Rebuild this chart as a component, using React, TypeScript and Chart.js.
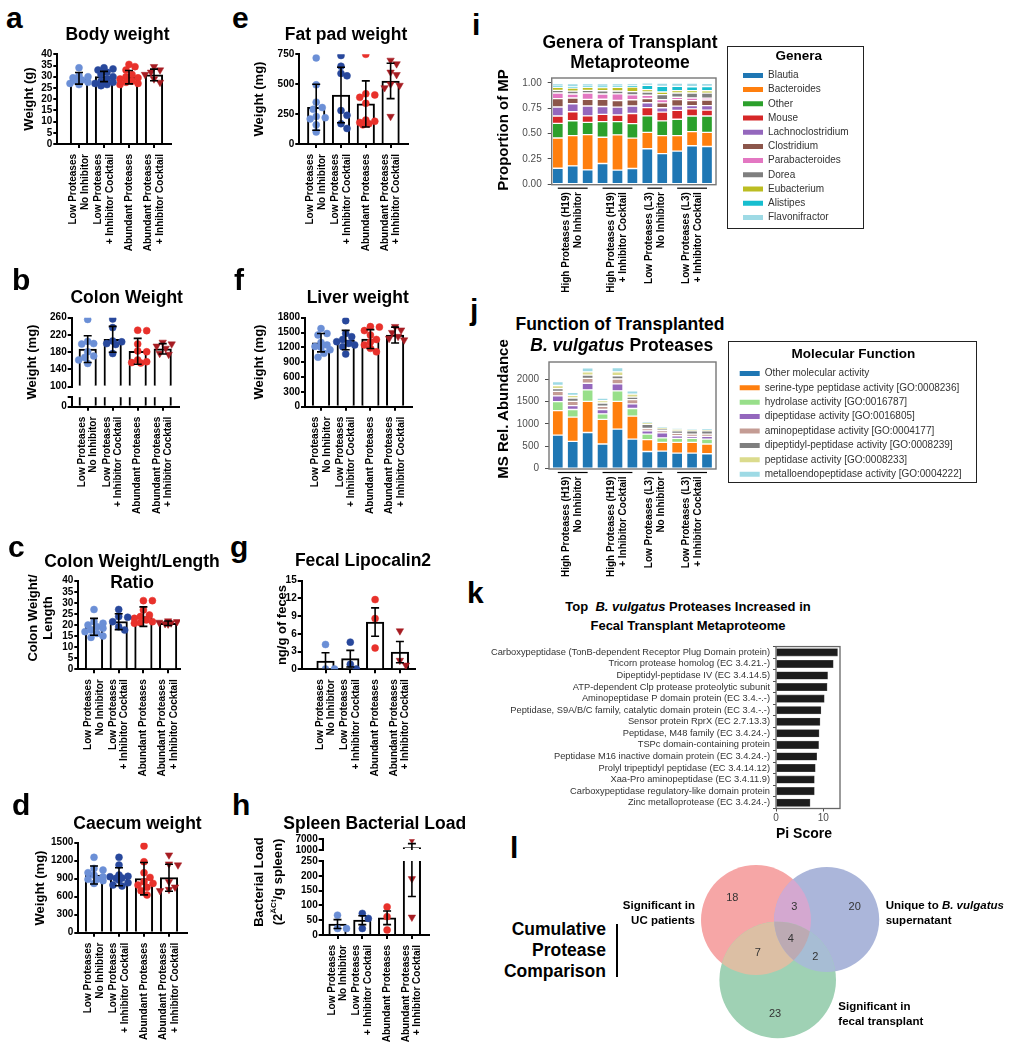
import React, { useEffect, useRef } from "react";
import { Chart, registerables } from "chart.js";

Chart.register(...registerables);
const FF = '"Liberation Sans", Arial, Helvetica, sans-serif';
Chart.defaults.font.family = FF;

// ---------------- DATA: treatment groups (panels a-h) ----------------
const treatmentLabels = [
  ["Low Proteases", "No Inhibitor"],
  ["Low Proteases", "+ Inhibitor Cocktail"],
  ["Abundant Proteases"],
  ["Abundant Proteases", "+ Inhibitor Cocktail"],
];

const bodyWeightTicks = [0, 5, 10, 15, 20, 25, 30, 35, 40];
const bodyWeightMean = [29.3, 30.1, 29.8, 30.8];
const bodyWeightSD = [2.6, 2.3, 3.0, 2.6];
const bodyWeightPoints = [
  [34, 30.5, 29.5, 28.5, 28, 27.5, 27, 26.5, 30],
  [34, 33.5, 33, 32, 31, 30, 29, 28, 27.5, 27, 26.5, 26],
  [35.5, 34.5, 33, 31, 30, 29.5, 29, 28, 27.5, 27, 26.5],
  [34.5, 33, 32, 31, 29, 27.5],
];

const fatPadTicks = [0, 250, 500, 750];
const fatPadMean = [307, 410, 335, 527];
const fatPadSD = [192, 232, 193, 148];
const fatPadPoints = [
  [720, 495, 350, 305, 290, 230, 220, 210, 160, 100],
  [740, 650, 590, 570, 280, 240, 170, 130],
  [750, 420, 410, 390, 340, 200, 190, 180, 170, 160],
  [700, 670, 600, 580, 500, 490, 470, 230],
];

const colonUpperTicks = [100, 140, 180, 220, 260];
const colonLowerTicks = [0, 20];
const colonMean = [187, 210, 182, 188];
const colonSD = [31, 30, 30, 12];
const colonPoints = [
  [256, 205, 200, 199, 181, 171, 168, 162, 154],
  [257, 237, 206, 204, 200, 198, 177],
  [231, 230, 199, 183, 181, 162, 158, 156, 155],
  [203, 199, 194, 189, 177, 175],
];

const liverTicks = [0, 300, 600, 900, 1200, 1500, 1800];
const liverMean = [1294, 1348, 1368, 1449];
const liverSD = [185, 195, 190, 160];
const liverPoints = [
  [1580, 1480, 1450, 1300, 1250, 1220, 1200, 1150, 1080, 1000],
  [1740, 1480, 1415, 1360, 1315, 1280, 1250, 1215, 1065],
  [1620, 1610, 1540, 1450, 1360, 1310, 1250, 1180, 1110],
  [1620, 1550, 1500, 1420, 1380, 1350],
];

const ratioTicks = [0, 5, 10, 15, 20, 25, 30, 35, 40];
const ratioMean = [19.2, 21.5, 23.8, 20.8];
const ratioSD = [3.8, 3.6, 4.4, 1.0];
const ratioPoints = [
  [27, 21.5, 20.8, 20, 19.2, 18.5, 17.7, 17, 16.2, 15, 14.4],
  [27, 23.8, 23.5, 21.5, 19.2, 17.7],
  [31, 31, 26.8, 24.5, 23.8, 23, 22.3, 21.5, 20.8, 21],
  [21.8, 21.5, 21.2, 20.9, 20.6, 20.4],
];

const lipocalinTicks = [0, 3, 6, 9, 12, 15];
const lipocalinMean = [1.4, 1.8, 8.0, 2.9];
const lipocalinSEM = [1.4, 1.4, 2.4, 1.8];
const lipocalinPoints = [
  [4.2, 0.05, 0.05],
  [4.6, 0.05, 0.85],
  [11.8, 8.6, 3.6],
  [6.5, 1.5, 0.7],
];

const caecumTicks = [0, 300, 600, 900, 1200, 1500];
const caecumMean = [961, 933, 900, 917];
const caecumSD = [150, 150, 270, 225];
const caecumPoints = [
  [1256, 1072, 1044, 1000, 961, 933, 889, 867, 822, 889],
  [1256, 1128, 961, 933, 906, 878, 833, 794, 778, 910, 940],
  [1444, 1183, 1000, 922, 850, 822, 794, 756, 700, 628],
  [1294, 1144, 1128, 850, 760, 720, 700],
];

const spleenUpperTicks = [1000, 7000];
const spleenLowerTicks = [0, 50, 100, 150, 200, 250];
const spleenMean = [37, 50, 58, 2350];
const spleenSEM = [15, 15, 23, 2220];
const spleenPoints = [
  [67, 22, 22],
  [73, 56, 22],
  [95, 62, 17],
  [6900, 190, 60],
];

// ---------------- DATA: panel i (genera) ----------------
const sampleGroup = [0, 0, 0, 1, 1, 1, 2, 2, 3, 3, 3];
const transplantGroupLabels = [
  ["High Proteases (H19)", "No Inhibitor"],
  ["High Proteases (H19)", "+ Inhibitor Cocktail"],
  ["Low Proteases (L3)", "No Inhibitor"],
  ["Low Proteases (L3)", "+ Inhibitor Cocktail"],
];
const genera = ["Blautia", "Bacteroides", "Other", "Mouse", "Lachnoclostridium", "Clostridium", "Parabacteroides", "Dorea", "Eubacterium", "Alistipes", "Flavonifractor"];
const blautia = [0.157, 0.18, 0.141, 0.204, 0.139, 0.155, 0.35, 0.301, 0.327, 0.379, 0.372];
const bacteroides = [0.299, 0.299, 0.348, 0.259, 0.348, 0.299, 0.162, 0.178, 0.152, 0.139, 0.139];
const otherGenera = [0.144, 0.147, 0.121, 0.155, 0.131, 0.144, 0.162, 0.146, 0.162, 0.155, 0.162];
const mouse = [0.073, 0.089, 0.065, 0.071, 0.065, 0.1, 0.081, 0.087, 0.087, 0.071, 0.058];
const lachnoclostridium = [0.089, 0.079, 0.097, 0.078, 0.078, 0.074, 0.049, 0.042, 0.042, 0.032, 0.045];
const clostridium = [0.083, 0.057, 0.065, 0.071, 0.065, 0.061, 0.042, 0.049, 0.065, 0.049, 0.055];
const parabacteroides = [0.055, 0.039, 0.063, 0.052, 0.065, 0.049, 0.032, 0.032, 0.023, 0.026, 0.019];
const dorea = [0.026, 0.029, 0.026, 0.032, 0.029, 0.032, 0.032, 0.049, 0.042, 0.049, 0.049];
const eubacterium = [0.029, 0.029, 0.029, 0.032, 0.036, 0.045, 0.023, 0.026, 0.023, 0.023, 0.023];
const alistipes = [0.012, 0.012, 0.012, 0.012, 0.012, 0.012, 0.042, 0.055, 0.042, 0.039, 0.042];
const flavonifractor = [0.026, 0.032, 0.026, 0.026, 0.026, 0.023, 0.026, 0.032, 0.032, 0.036, 0.032];
const proportionTicks = [0, 0.25, 0.5, 0.75, 1];

// ---------------- DATA: panel j (molecular function) ----------------
const functions = [
  "Other molecular activity",
  "serine-type peptidase activity [GO:0008236]",
  "hydrolase activity [GO:0016787]",
  "dipeptidase activity [GO:0016805]",
  "aminopeptidase activity [GO:0004177]",
  "dipeptidyl-peptidase activity [GO:0008239]",
  "peptidase activity [GO:0008233]",
  "metalloendopeptidase activity [GO:0004222]",
];
const otherMolecular = [745, 608, 806, 549, 879, 659, 381, 388, 344, 344, 330];
const serineType = [550, 542, 696, 550, 623, 513, 264, 198, 242, 242, 219];
const hydrolase = [200, 169, 256, 124, 234, 169, 124, 100, 88, 88, 110];
const dipeptidase = [130, 88, 147, 96, 154, 102, 73, 110, 59, 44, 59];
const aminopeptidase = [100, 95, 110, 73, 110, 95, 52, 50, 51, 51, 51];
const dipeptidylPeptidase = [60, 73, 73, 73, 73, 59, 95, 40, 58, 73, 73];
const peptidase = [70, 59, 73, 51, 88, 66, 29, 20, 30, 15, 15];
const metalloendopeptidase = [90, 66, 88, 59, 95, 73, 22, 20, 22, 15, 22];
const abundanceTicks = [0, 500, 1000, 1500, 2000];

// ---------------- DATA: panel k ----------------
const proteaseNames = [
  "Carboxypeptidase (TonB-dependent Receptor Plug Domain protein)",
  "Tricorn protease homolog (EC 3.4.21.-)",
  "Dipeptidyl-peptidase IV (EC 3.4.14.5)",
  "ATP-dependent Clp protease proteolytic subunit",
  "Aminopeptidase P domain protein (EC 3.4.-.-)",
  "Peptidase, S9A/B/C family, catalytic domain protein (EC 3.4.-.-)",
  "Sensor protein RprX (EC 2.7.13.3)",
  "Peptidase, M48 family (EC 3.4.24.-)",
  "TSPc domain-containing protein",
  "Peptidase M16 inactive domain protein (EC 3.4.24.-)",
  "Prolyl tripeptidyl peptidase (EC 3.4.14.12)",
  "Xaa-Pro aminopeptidase (EC 3.4.11.9)",
  "Carboxypeptidase regulatory-like domain protein",
  "Zinc metalloprotease (EC 3.4.24.-)",
];
const piScores = [13.0, 12.1, 10.9, 10.8, 10.2, 9.5, 9.3, 9.1, 9.0, 8.6, 8.3, 8.1, 8.1, 7.2];
const piTicks = [0, 10];

// ---------------- DATA: panel l (Venn) ----------------
const vennSets = ["Significant in UC patients", "Unique to B. vulgatus supernatant", "Significant in fecal transplant"];
const vennRegionCounts = [18, 20, 23, 3, 7, 2, 4]; // UC, Bv, FT, UC&Bv, UC&FT, Bv&FT, all

// ---------------- STYLES / LAYOUT ----------------
const treatmentColors = ["#6b8fd6", "#28489c", "#e8312b", "#a61c22"];
const treatmentMarkers = ["circle", "circle", "circle", "triangle"];
const generaColors = ["#1f77b4", "#ff7f0e", "#2ca02c", "#d62728", "#9467bd", "#8c564b", "#e377c2", "#7f7f7f", "#bcbd22", "#17becf", "#9edae5"];
const functionColors = ["#1f77b4", "#ff7f0e", "#98df8a", "#9467bd", "#c49c94", "#7f7f7f", "#dbdb8d", "#9edae5"];
const vennColors = ["#f6a6a6", "#abb6da", "#9fd1b4"];
const vennMix = { ab: "#d4a8d0", ac: "#dcbfa4", bc: "#a7bdd4", abc: "#bcaab3" };
const vennCircles = [
  { x: 756, y: 920, r: 55 },
  { x: 826.7, y: 919.5, r: 52.5 },
  { x: 777.7, y: 980, r: 58.3 },
];
const vennNumberPos = [
  [732.3, 897.3], [854.7, 906], [775, 1012.7], [794.3, 906], [757.7, 952.3], [815.3, 956], [790.7, 937.7],
];

type Rect = { x: number; y: number; w: number; h: number };

function swarm(vals: number[], ppu: number, d = 6.3) {
  const offs = new Array(vals.length).fill(0);
  const placed: number[][] = [];
  const order = vals.map((_, i) => i).sort((a, b) => vals[b] - vals[a]);
  const cands = [0, 3, -3, 6, -6, 9, -9];
  for (const i of order) {
    const py = vals[i] * ppu;
    let best = 0;
    let bestD = -1;
    for (const c of cands) {
      const md = placed.reduce((m, [qx, qy]) => Math.min(m, Math.hypot(qx - c, qy - py)), Infinity);
      if (md >= d) {
        best = c;
        bestD = md;
        break;
      }
      if (md > bestD + 0.5) {
        best = c;
        bestD = md;
      }
    }
    offs[i] = best;
    placed.push([best, py]);
  }
  return offs;
}

const errPlugin = (means: number[], errs: number[], extra: number) => ({
  id: "errbars",
  afterDatasetsDraw(chart: any) {
    const { ctx, chartArea: a } = chart;
    const x = chart.scales.x;
    const y = chart.scales.y;
    ctx.save();
    ctx.beginPath();
    ctx.rect(a.left, a.top - extra, a.right - a.left, a.bottom - a.top + 2 * extra);
    ctx.clip();
    ctx.strokeStyle = "#000";
    ctx.lineWidth = 1.6;
    means.forEach((m, i) => {
      const px = x.getPixelForValue(i);
      const hi = y.getPixelForValue(m + errs[i]);
      const lo = y.getPixelForValue(m - errs[i]);
      ctx.beginPath();
      ctx.moveTo(px, hi);
      ctx.lineTo(px, lo);
      ctx.moveTo(px - 4, hi);
      ctx.lineTo(px + 4, hi);
      ctx.moveTo(px - 4, lo);
      ctx.lineTo(px + 4, lo);
      ctx.stroke();
    });
    ctx.restore();
  },
});

const xLabelPlugin = (labels: string[][], lh = 11.5, gap = 10) => ({
  id: "xlabels",
  afterDraw(chart: any) {
    const { ctx, chartArea: a } = chart;
    const x = chart.scales.x;
    ctx.save();
    ctx.fillStyle = "#000";
    ctx.font = `bold 10px ${FF}`;
    ctx.textAlign = "right";
    ctx.textBaseline = "middle";
    labels.forEach((lines, i) => {
      const px = x.getPixelForValue(i);
      ctx.save();
      ctx.translate(px, a.bottom + gap);
      ctx.rotate(-Math.PI / 2);
      lines.forEach((ln, j) => ctx.fillText(ln, 0, (j - (lines.length - 1) / 2) * lh));
      ctx.restore();
    });
    ctx.restore();
  },
});

const framePlugin = (color: string, width: number) => ({
  id: "frame",
  afterDatasetsDraw(chart: any) {
    const { ctx, chartArea: a } = chart;
    ctx.save();
    ctx.strokeStyle = color;
    ctx.lineWidth = width;
    ctx.strokeRect(a.left, a.top, a.right - a.left, a.bottom - a.top);
    ctx.restore();
  },
});

const groupPlugin = (groupOf: number[], labels: string[][]) => ({
  id: "groups",
  afterDraw(chart: any) {
    const { ctx, chartArea: a } = chart;
    const xs = chart.scales.x;
    ctx.save();
    labels.forEach((lines, g) => {
      const idx = groupOf.map((v, i) => (v === g ? i : -1)).filter((i) => i >= 0);
      const first = xs.getPixelForValue(idx[0]);
      const last = xs.getPixelForValue(idx[idx.length - 1]);
      const mid = (first + last) / 2;
      ctx.strokeStyle = "#000";
      ctx.lineWidth = 1.2;
      ctx.beginPath();
      ctx.moveTo(first, a.bottom + 3.5);
      ctx.lineTo(last, a.bottom + 3.5);
      ctx.stroke();
      ctx.save();
      ctx.translate(mid, a.bottom + 7.5);
      ctx.rotate(-Math.PI / 2);
      ctx.fillStyle = "#000";
      ctx.font = `bold 10px ${FF}`;
      ctx.textAlign = "right";
      ctx.textBaseline = "middle";
      lines.forEach((ln, j) => ctx.fillText(ln, 0, (j - (lines.length - 1) / 2) * 12));
      ctx.restore();
    });
    ctx.restore();
  },
});

function makeGP(seg: any, means: number[], errs: number[], points: number[][]) {
  const p = seg.plot;
  const x0 = Math.floor(p.l - 44);
  const y0 = Math.floor(p.t - 10);
  const x1 = Math.ceil(p.r + 8);
  const y1 = Math.ceil(seg.showX ? p.b + 122 : p.b + 8);
  const rect = { x: x0, y: y0, w: x1 - x0, h: y1 - y0 };
  const xMin = (p.l - seg.c0) / seg.s;
  const xMax = (p.r - seg.c0) / seg.s;
  const ppu = (p.b - p.t) / (seg.yMax - seg.yMin);
  const hide: number[] = seg.hide || [];
  const inRange = (v: number) => !seg.broken || (v >= seg.yMin && v <= seg.yMax);
  const datasets: any[] = [
    {
      type: "bar",
      order: 2,
      base: seg.yMin,
      clip: 0,
      data: means.map((m, i) => ({ x: i, y: m })).filter((d) => d.y > seg.yMin),
      backgroundColor: "#ffffff",
      borderColor: "#000000",
      borderWidth: 2,
      barThickness: 17.5,
    },
  ];
  points.forEach((pts, g) => {
    const offs = swarm(pts, ppu);
    const tri = treatmentMarkers[g] === "triangle";
    datasets.push({
      type: "scatter",
      order: 1,
      data: pts.map((v, k) => ({ x: g + offs[k] / seg.s, y: v })).filter((d) => inRange(d.y)),
      pointStyle: treatmentMarkers[g],
      pointRotation: tri ? 180 : 0,
      pointRadius: tri ? 4.3 : 3.5,
      backgroundColor: treatmentColors[g],
      borderColor: treatmentColors[g],
      borderWidth: 0.5,
    });
  });
  const plugins: any[] = [errPlugin(means, errs, seg.broken ? 0 : 2)];
  if (seg.showX) plugins.push(xLabelPlugin(treatmentLabels));
  const config = {
    type: "bar",
    data: { datasets },
    options: {
      responsive: false,
      animation: false,
      events: [],
      layout: {
        autoPadding: false,
        padding: {
          left: 0,
          top: p.t - rect.y,
          right: rect.x + rect.w - p.r,
          bottom: seg.showX ? 0 : rect.y + rect.h - p.b,
        },
      },
      plugins: { legend: { display: false }, tooltip: { enabled: false } },
      scales: {
        x: {
          type: "linear",
          min: xMin,
          max: xMax,
          offset: false,
          display: seg.showX,
          afterBuildTicks: (sc: any) => {
            sc.ticks = means.map((_, i) => ({ value: i }));
          },
          afterFit: (sc: any) => {
            sc.height = seg.showX ? rect.y + rect.h - p.b : 0;
          },
          ticks: { display: false },
          grid: { offset: false, drawOnChartArea: false, drawTicks: true, tickLength: 4, color: "#000", tickColor: "#000", lineWidth: 2, tickWidth: 2 },
          border: { display: true, color: "#000", width: 2 },
        },
        y: {
          type: "linear",
          min: seg.yMin,
          max: seg.yMax,
          bounds: "data",
          beginAtZero: false,
          afterBuildTicks: (sc: any) => {
            sc.ticks = seg.yTicks.map((v: number) => ({ value: v }));
          },
          afterFit: (sc: any) => {
            sc.width = p.l - rect.x;
          },
          ticks: {
            autoSkip: false,
            callback: (v: number) => (hide.includes(v) ? "" : String(v)),
            color: "#000",
            font: { family: FF, size: 10, weight: "bold", lineHeight: 1 },
            padding: 1,
          },
          grid: { drawOnChartArea: false, drawTicks: true, tickLength: 4, color: "#000", tickColor: "#000", lineWidth: 2, tickWidth: 2 },
          border: { display: true, color: "#000", width: 2 },
        },
      },
    },
    plugins,
  };
  return { rect, config };
}

function makeStack(spec: any) {
  const { plot: p, rect, yMin, yMax, yTicks, fmt, series, colors, names, c0, s } = spec;
  const xMin = (p.l - c0) / s;
  const xMax = (p.r - c0) / s;
  const datasets = names.map((n: string, k: number) => ({
    label: n,
    data: series[k].map((v: number, i: number) => ({ x: i, y: v })),
    backgroundColor: colors[k],
    borderColor: "rgba(255,255,255,0.85)",
    borderWidth: 1,
    borderSkipped: false,
    barThickness: 11,
    stack: "s",
  }));
  const config = {
    type: "bar",
    data: { datasets },
    options: {
      responsive: false,
      animation: false,
      events: [],
      layout: { autoPadding: false, padding: { left: 0, top: p.t - rect.y, right: rect.x + rect.w - p.r, bottom: 0 } },
      plugins: { legend: { display: false }, tooltip: { enabled: false } },
      scales: {
        x: {
          type: "linear",
          stacked: true,
          min: xMin,
          max: xMax,
          offset: false,
          afterFit: (sc: any) => {
            sc.height = rect.y + rect.h - p.b;
          },
          ticks: { display: false },
          grid: { display: false, offset: false },
          border: { display: false },
        },
        y: {
          type: "linear",
          stacked: true,
          min: yMin,
          max: yMax,
          bounds: "data",
          beginAtZero: false,
          afterBuildTicks: (sc: any) => {
            sc.ticks = yTicks.map((v: number) => ({ value: v }));
          },
          afterFit: (sc: any) => {
            sc.width = p.l - rect.x;
          },
          ticks: { autoSkip: false, callback: fmt, color: "#4d4d4d", font: { family: FF, size: 10 }, padding: 6 },
          grid: { drawOnChartArea: false, drawTicks: true, tickLength: 4, tickColor: "#4d4d4d", tickWidth: 1 },
          border: { display: false },
        },
      },
    },
    plugins: [framePlugin("#777", 1.4), groupPlugin(sampleGroup, transplantGroupLabels)],
  };
  return { rect, config };
}

function makeLegend(names: string[], colors: string[], title: string, rect: Rect, frame: Rect, padLeft: number, titleTop: number, itemPad: number) {
  const config = {
    type: "bar",
    data: {
      labels: [],
      datasets: names.map((n, k) => ({ label: n, data: [], backgroundColor: colors[k], borderColor: colors[k], borderWidth: 0 })),
    },
    options: {
      responsive: false,
      animation: false,
      events: [],
      layout: { autoPadding: false, padding: { left: padLeft, top: 0, right: 0, bottom: 0 } },
      scales: { x: { display: false }, y: { display: false } },
      plugins: {
        tooltip: { enabled: false },
        legend: {
          display: true,
          position: "left",
          align: "start",
          title: { display: true, text: title, color: "#000", font: { family: FF, size: 13.5, weight: "bold" }, padding: { top: titleTop, bottom: 0 } },
          labels: { boxWidth: 20, boxHeight: 5, color: "#333", font: { family: FF, size: 10 }, padding: itemPad },
        },
      },
    },
  };
  return { rect, config, frame };
}

function makeK() {
  const rect = { x: 480, y: 638, w: 365, h: 190 };
  const p = { l: 776, r: 840, t: 645.2, b: 808.5 };
  const config = {
    type: "bar",
    data: {
      labels: proteaseNames,
      datasets: [{ data: piScores, backgroundColor: "#1c1c1c", borderColor: "#555", borderWidth: 0.6, barThickness: 7.4 }],
    },
    options: {
      indexAxis: "y",
      responsive: false,
      animation: false,
      events: [],
      layout: { autoPadding: false, padding: { left: 0, top: p.t - rect.y, right: rect.x + rect.w - p.r, bottom: 0 } },
      plugins: { legend: { display: false }, tooltip: { enabled: false } },
      scales: {
        y: {
          type: "category",
          afterFit: (sc: any) => {
            sc.width = p.l - rect.x;
          },
          ticks: { autoSkip: false, color: "#333", font: { family: FF, size: 9.3 }, padding: 3 },
          grid: { drawOnChartArea: false, drawTicks: true, tickLength: 3, tickColor: "#4d4d4d", tickWidth: 1 },
          border: { display: false },
        },
        x: {
          type: "linear",
          min: 0,
          max: 13.53,
          bounds: "data",
          afterBuildTicks: (sc: any) => {
            sc.ticks = piTicks.map((v) => ({ value: v }));
          },
          afterFit: (sc: any) => {
            sc.height = rect.y + rect.h - p.b;
          },
          ticks: { color: "#4d4d4d", font: { family: FF, size: 10 }, padding: 1 },
          grid: { drawOnChartArea: false, drawTicks: true, tickLength: 3, tickColor: "#4d4d4d", tickWidth: 1 },
          border: { display: false },
        },
      },
    },
    plugins: [framePlugin("#666", 1.3)],
  };
  return { rect, config };
}

function makeVenn() {
  const rect = { x: 690, y: 855, w: 200, h: 190 };
  const overlay = {
    id: "vennmix",
    afterDatasetsDraw(chart: any) {
      const ctx = chart.ctx;
      const xs = chart.scales.x;
      const ys = chart.scales.y;
      const circ = (k: number) => {
        const c = vennCircles[k];
        ctx.beginPath();
        ctx.arc(xs.getPixelForValue(c.x), ys.getPixelForValue(c.y), c.r, 0, Math.PI * 2);
      };
      const pairs: any[] = [
        [0, 1, vennMix.ab],
        [0, 2, vennMix.ac],
        [1, 2, vennMix.bc],
      ];
      for (const [i, j, c] of pairs) {
        ctx.save();
        circ(i);
        ctx.clip();
        circ(j);
        ctx.fillStyle = c;
        ctx.fill();
        ctx.restore();
      }
      ctx.save();
      circ(0);
      ctx.clip();
      circ(1);
      ctx.clip();
      circ(2);
      ctx.fillStyle = vennMix.abc;
      ctx.fill();
      ctx.restore();
    },
  };
  const config = {
    type: "bubble",
    data: {
      datasets: [
        {
          label: "sets",
          data: vennCircles.map((c) => ({ x: c.x, y: c.y, r: c.r })),
          backgroundColor: vennColors,
          borderWidth: 0,
          clip: false,
        },
      ],
    },
    options: {
      responsive: false,
      animation: false,
      events: [],
      layout: { autoPadding: false, padding: 0 },
      plugins: { legend: { display: false }, tooltip: { enabled: false } },
      scales: {
        x: { type: "linear", min: rect.x, max: rect.x + rect.w, display: false },
        y: { type: "linear", min: rect.y, max: rect.y + rect.h, reverse: true, display: false },
      },
    },
    plugins: [overlay],
  };
  return { rect, config };
}

function ChartBox({ rect, config, frame }: { rect: Rect; config: any; frame?: Rect }) {
  const ref = useRef<HTMLCanvasElement | null>(null);
  useEffect(() => {
    const c = new Chart(ref.current as HTMLCanvasElement, config);
    return () => c.destroy();
  }, []);
  return (
    <>
      <canvas
        ref={ref}
        width={rect.w}
        height={rect.h}
        style={{ position: "absolute", left: rect.x, top: rect.y, width: rect.w, height: rect.h, display: "block" }}
      />
      {frame && (
        <div
          style={{
            position: "absolute",
            left: frame.x,
            top: frame.y,
            width: frame.w,
            height: frame.h,
            border: "1.5px solid #222",
            boxSizing: "border-box",
            pointerEvents: "none",
          }}
        />
      )}
    </>
  );
}

function T({ x, y, children, size = 17.5, weight = 700, align = "center", rot = false, color = "#000", lh = 1 }: any) {
  const tx = align === "center" ? "-50%" : align === "right" ? "-100%" : "0";
  return (
    <div
      style={{
        position: "absolute",
        left: x,
        top: y,
        transform: rot ? "translate(-50%,-50%) rotate(-90deg)" : `translate(${tx},-50%)`,
        fontFamily: FF,
        fontSize: size,
        fontWeight: weight,
        color,
        whiteSpace: "pre",
        lineHeight: lh,
        textAlign: align,
      }}
    >
      {children}
    </div>
  );
}

function Letter({ x, base, ch }: any) {
  return (
    <div style={{ position: "absolute", left: x, top: base - 25.4, fontFamily: FF, fontSize: 30, fontWeight: 700, lineHeight: "30px" }}>{ch}</div>
  );
}

export default function App() {
  const charts: any[] = [
    makeGP({ plot: { l: 57.3, r: 171, t: 54.3, b: 144 }, yMin: 0, yMax: 40, yTicks: bodyWeightTicks, c0: 79, s: 25, showX: true }, bodyWeightMean, bodyWeightSD, bodyWeightPoints),
    makeGP({ plot: { l: 299.3, r: 408, t: 54.3, b: 144 }, yMin: 0, yMax: 750, yTicks: fatPadTicks, c0: 316.2, s: 24.8, showX: true }, fatPadMean, fatPadSD, fatPadPoints),
    makeGP({ plot: { l: 71.7, r: 179, t: 317.7, b: 386.7 }, yMin: 100, yMax: 260, yTicks: colonUpperTicks, c0: 87.7, s: 25, showX: false, broken: true }, colonMean, colonSD, colonPoints),
    makeGP({ plot: { l: 71.7, r: 179, t: 397.3, b: 406.7 }, yMin: 0, yMax: 20, yTicks: colonLowerTicks, hide: [20], c0: 87.7, s: 25, showX: true, broken: true }, colonMean, colonSD, colonPoints),
    makeGP({ plot: { l: 305, r: 412, t: 317.7, b: 406.7 }, yMin: 0, yMax: 1800, yTicks: liverTicks, c0: 321, s: 24.7, showX: true }, liverMean, liverSD, liverPoints),
    makeGP({ plot: { l: 78.3, r: 180, t: 580.7, b: 669.3 }, yMin: 0, yMax: 40, yTicks: ratioTicks, c0: 94, s: 24.7, showX: true }, ratioMean, ratioSD, ratioPoints),
    makeGP({ plot: { l: 301.7, r: 415, t: 580.7, b: 669.3 }, yMin: 0, yMax: 15, yTicks: lipocalinTicks, c0: 325.5, s: 24.8, showX: true }, lipocalinMean, lipocalinSEM, lipocalinPoints),
    makeGP({ plot: { l: 78.3, r: 187, t: 842.7, b: 932.7 }, yMin: 0, yMax: 1500, yTicks: caecumTicks, c0: 94, s: 25, showX: true }, caecumMean, caecumSD, caecumPoints),
    makeGP({ plot: { l: 322.7, r: 429, t: 839.3, b: 850 }, yMin: 1000, yMax: 7000, yTicks: spleenUpperTicks, c0: 337.5, s: 24.8, showX: false, broken: true }, spleenMean, spleenSEM, spleenPoints),
    makeGP({ plot: { l: 322.7, r: 429, t: 861, b: 935 }, yMin: 0, yMax: 250, yTicks: spleenLowerTicks, c0: 337.5, s: 24.8, showX: true, broken: true }, spleenMean, spleenSEM, spleenPoints),
    makeStack({
      plot: { l: 551.7, r: 716, t: 76, b: 184.7 },
      rect: { x: 505, y: 66, w: 220, h: 234 },
      yMin: -0.005,
      yMax: 1.048,
      yTicks: proportionTicks,
      fmt: (v: number) => v.toFixed(2),
      series: [blautia, bacteroides, otherGenera, mouse, lachnoclostridium, clostridium, parabacteroides, dorea, eubacterium, alistipes, flavonifractor],
      colors: generaColors,
      names: genera,
      c0: 557.8,
      s: 14.92,
    }),
    makeStack({
      plot: { l: 549, r: 716, t: 360, b: 469 },
      rect: { x: 505, y: 350, w: 220, h: 240 },
      yMin: -10,
      yMax: 2380,
      yTicks: abundanceTicks,
      fmt: (v: number) => String(v),
      series: [otherMolecular, serineType, hydrolase, dipeptidase, aminopeptidase, dipeptidylPeptidase, peptidase, metalloendopeptidase],
      colors: functionColors,
      names: functions,
      c0: 557.8,
      s: 14.92,
    }),
    makeLegend(genera, generaColors, "Genera", { x: 727, y: 46, w: 300, h: 198 }, { x: 727, y: 46, w: 137, h: 183 }, 11.8, 4, 4.2),
    makeLegend(functions, functionColors, "Molecular Function", { x: 728, y: 341, w: 530, h: 165 }, { x: 728, y: 341, w: 249, h: 142 }, 7.3, 6.8, 4.4),
    makeK(),
    makeVenn(),
  ];

  return (
    <div style={{ position: "absolute", left: 0, top: 0, width: 1013, height: 1050, background: "#fff", overflow: "hidden" }}>
      {charts.map((c, i) => (
        <ChartBox key={i} rect={c.rect} config={c.config} frame={c.frame} />
      ))}

      {/* panel letters */}
      <Letter x={6} base={28.3} ch="a" />
      <Letter x={232} base={28.3} ch="e" />
      <Letter x={472} base={35} ch="i" />
      <Letter x={12} base={290} ch="b" />
      <Letter x={234} base={290} ch="f" />
      <Letter x={470} base={320} ch="j" />
      <Letter x={8} base={557} ch="c" />
      <Letter x={230} base={557} ch="g" />
      <Letter x={467} base={603} ch="k" />
      <Letter x={12} base={815} ch="d" />
      <Letter x={232} base={815} ch="h" />
      <Letter x={510} base={858} ch="l" />

      {/* panel titles */}
      <T x={117.5} y={35}>Body weight</T>
      <T x={346} y={35}>Fat pad weight</T>
      <T x={126.7} y={298}>Colon Weight</T>
      <T x={357.7} y={298}>Liver weight</T>
      <T x={132} y={571.5} lh="21px">{"Colon Weight/Length\nRatio"}</T>
      <T x={363} y={561}>Fecal Lipocalin2</T>
      <T x={137.5} y={824}>Caecum weight</T>
      <T x={374.7} y={824}>Spleen Bacterial Load</T>
      <T x={630} y={51.7} lh="20.5px">{"Genera of Transplant\nMetaproteome"}</T>
      <T x={620} y={324.5}>Function of Transplanted</T>
      <T x={621.7} y={346}>
        <i>B. vulgatus</i> Proteases
      </T>
      <T x={688} y={606} size={13}>
        {"Top  "}
        <i>B. vulgatus</i>
        {" Proteases Increased in"}
      </T>
      <T x={688} y={625} size={13}>Fecal Transplant Metaproteome</T>

      {/* y axis titles */}
      <T x={28} y={99} size={13} rot>Weight (g)</T>
      <T x={258} y={99} size={13} rot>Weight (mg)</T>
      <T x={31} y={362} size={13} rot>Weight (mg)</T>
      <T x={257.5} y={362} size={13} rot>Weight (mg)</T>
      <T x={40} y={618} size={13} rot lh="15px">{"Colon Weight/\nLength"}</T>
      <T x={281} y={625} size={13} rot>ng/g of feces</T>
      <T x={39} y={887.5} size={13} rot>Weight (mg)</T>
      <T x={267.5} y={882} size={13} rot lh="15px">
        {"Bacterial Load\n(2"}
        <sup style={{ fontSize: 8 }}>ÄCt</sup>
        {"/g spleen)"}
      </T>
      <T x={501.7} y={130} size={15} rot>Proportion of MP</T>
      <T x={501.7} y={409} size={15} rot>MS Rel. Abundance</T>
      <T x={804} y={833.3} size={14}>Pi Score</T>

      {/* Venn annotations */}
      {vennRegionCounts.map((n, i) => (
        <T key={i} x={vennNumberPos[i][0]} y={vennNumberPos[i][1]} size={11} weight={400} color="#333">
          {String(n)}
        </T>
      ))}
      <T x={695} y={912.2} size={11.5} align="right" lh="14.5px">{"Significant in\nUC patients"}</T>
      <T x={885.7} y={912.2} size={11.5} align="left" lh="14.5px">
        {"Unique to "}
        <i>B. vulgatus</i>
        {"\nsupernatant"}
      </T>
      <T x={838.3} y={1014.2} size={11.5} align="left" lh="15px">{"Significant in\nfecal transplant"}</T>
      <T x={606} y={950.5} size={17.5} align="right" lh="21.2px">{"Cumulative\nProtease\nComparison"}</T>
      <div style={{ position: "absolute", left: 615.7, top: 924, width: 2, height: 53, background: "#000" }} />
    </div>
  );
}
